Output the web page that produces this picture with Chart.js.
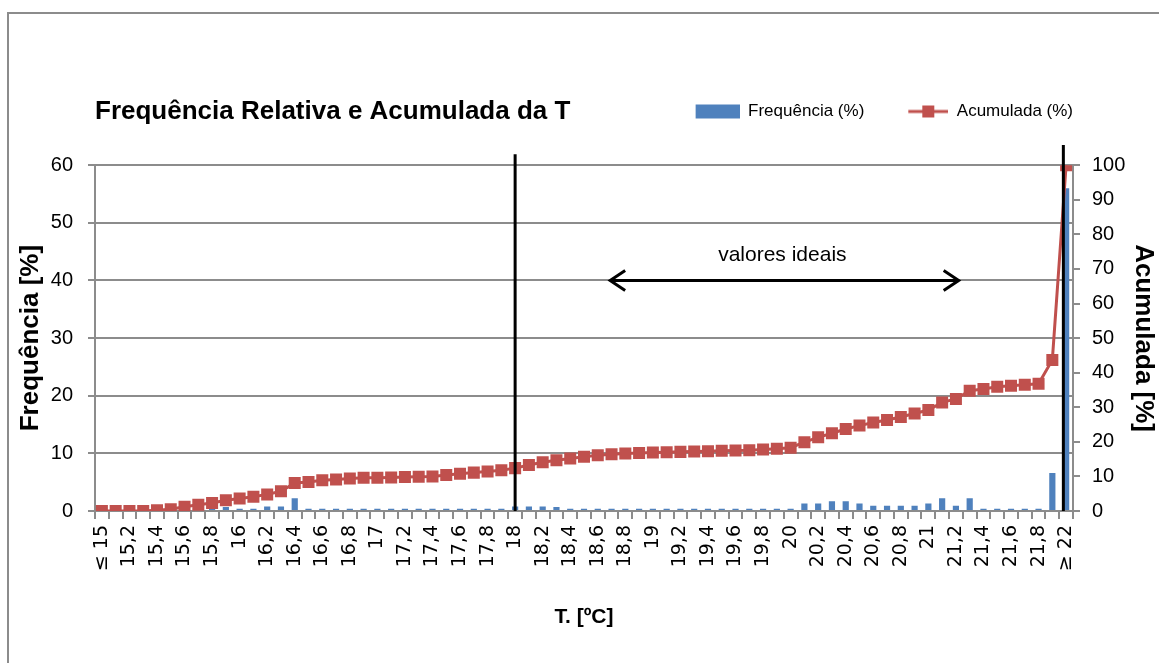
<!DOCTYPE html>
<html lang="pt">
<head>
    <meta charset="UTF-8">
    <title>Frequência Relativa e Acumulada da T</title>
    <script src="https://cdn.jsdelivr.net/npm/chart.js"></script>
    <style>
        html, body {
            margin: 0;
            padding: 0;
            background: #fff;
            overflow: hidden;
        }
        #wrap {
            position: relative;
            width: 1159px;
            height: 663px;
        }
        #frame {
            position: absolute;
            left: 7px;
            top: 12px;
            width: 1200px;
            height: 700px;
            border: 2px solid #8c8c8c;
            pointer-events: none;
        }
        canvas {
            position: absolute;
            left: 0;
            top: 0;
        }
    </style>
</head>
<body>
<div id="wrap">
    <div id="frame"></div>
    <canvas id="chart" width="1159" height="663"></canvas>
</div>

<script>
    // temperature classes (step 0,1 ºC)
    const categories = [
        '≤ 15', '15,1', '15,2', '15,3', '15,4', '15,5', '15,6', '15,7', '15,8', '15,9',
        '16', '16,1', '16,2', '16,3', '16,4', '16,5', '16,6', '16,7', '16,8', '16,9',
        '17', '17,1', '17,2', '17,3', '17,4', '17,5', '17,6', '17,7', '17,8', '17,9',
        '18', '18,1', '18,2', '18,3', '18,4', '18,5', '18,6', '18,7', '18,8', '18,9',
        '19', '19,1', '19,2', '19,3', '19,4', '19,5', '19,6', '19,7', '19,8', '19,9',
        '20', '20,1', '20,2', '20,3', '20,4', '20,5', '20,6', '20,7', '20,8', '20,9',
        '21', '21,1', '21,2', '21,3', '21,4', '21,5', '21,6', '21,7', '21,8', '21,9',
        '≥ 22'
    ];

    // relative frequency (%) - left axis
    const frequencia = [
        0, 0, 0, 0.1, 0.2, 0.3, 0.6, 0.6, 0.5, 0.7,
        0.4, 0.4, 0.8, 0.8, 2.2, 0.4, 0.4, 0.4, 0.4, 0.4,
        0.4, 0.4, 0.4, 0.4, 0.4, 0.4, 0.4, 0.4, 0.4, 0.4,
        0.8, 0.8, 0.8, 0.7, 0.4, 0.4, 0.4, 0.4, 0.4, 0.4,
        0.4, 0.4, 0.4, 0.4, 0.4, 0.4, 0.4, 0.4, 0.4, 0.4,
        0.4, 1.3, 1.3, 1.7, 1.7, 1.3, 0.9, 0.9, 0.9, 0.9,
        1.3, 2.2, 0.9, 2.2, 0.4, 0.4, 0.4, 0.4, 0.4, 6.6,
        56.0
    ];

    // cumulative (%) - right axis
    const acumulada = [
        0, 0, 0, 0, 0.2, 0.5, 1.2, 1.8, 2.3, 3.1,
        3.6, 4.1, 4.8, 5.7, 8.1, 8.4, 8.9, 9.1, 9.4, 9.6,
        9.6, 9.7, 9.8, 9.9, 10.0, 10.4, 10.8, 11.1, 11.4, 11.8,
        12.4, 13.3, 14.1, 14.7, 15.2, 15.7, 16.1, 16.4, 16.6, 16.8,
        16.9, 17.0, 17.1, 17.2, 17.3, 17.4, 17.5, 17.6, 17.8, 18.0,
        18.3, 19.9, 21.3, 22.5, 23.7, 24.7, 25.6, 26.3, 27.2, 28.2,
        29.2, 31.4, 32.4, 34.8, 35.3, 35.9, 36.2, 36.5, 36.8, 43.7,
        100
    ];

    const leftTicks = [0, 10, 20, 30, 40, 50, 60];
    const rightTicks = [0, 10, 20, 30, 40, 50, 60, 70, 80, 90, 100];

    const BLUE = '#4F81BD';
    const RED = '#C0504D';
    const GRID = '#8c8c8c';
    const FONT = '"Liberation Sans", Arial, sans-serif';

    // legend icons, excel style
    function makeIcon(kind) {
        const c = document.createElement('canvas');
        c.width = 84;
        c.height = 16;
        const g = c.getContext('2d');
        if (kind === 'bar') {
            g.fillStyle = BLUE;
            g.fillRect(40, 1, 44, 14);
        } else {
            g.strokeStyle = RED;
            g.lineWidth = 3;
            g.beginPath();
            g.moveTo(44, 8);
            g.lineTo(84, 8);
            g.stroke();
            g.fillStyle = RED;
            g.fillRect(58, 2, 12, 12);
        }
        return c;
    }
    const icons = { bar: makeIcon('bar'), line: makeIcon('line') };

    // limit lines and "valores ideais" arrow
    const annotations = {
        id: 'annotations',
        afterDatasetsDraw(chart) {
            const { ctx } = chart;
            const x = chart.scales.x;
            const y = chart.scales.y;
            ctx.save();
            ctx.strokeStyle = '#000';
            ctx.lineWidth = 3;

            [[30, 61.9], [69.8, 63.5]].forEach(([idx, top]) => {
                const px = x.getPixelForValue(idx);
                ctx.beginPath();
                ctx.moveTo(px, y.getPixelForValue(top));
                ctx.lineTo(px, y.getPixelForValue(0));
                ctx.stroke();
            });

            const x1 = x.getPixelForValue(36.9);
            const x2 = x.getPixelForValue(62.2);
            const ay = y.getPixelForValue(40);
            ctx.beginPath();
            ctx.moveTo(x1, ay);
            ctx.lineTo(x2, ay);
            ctx.moveTo(x1 + 15, ay - 10);
            ctx.lineTo(x1, ay);
            ctx.lineTo(x1 + 15, ay + 10);
            ctx.moveTo(x2 - 15, ay - 10);
            ctx.lineTo(x2, ay);
            ctx.lineTo(x2 - 15, ay + 10);
            ctx.stroke();

            ctx.fillStyle = '#000';
            ctx.font = '21px ' + FONT;
            ctx.textAlign = 'center';
            ctx.textBaseline = 'middle';
            ctx.fillText('valores ideais', x.getPixelForValue(49.4), y.getPixelForValue(44.3));
            ctx.restore();
        }
    };

    const ctx = document.getElementById('chart').getContext('2d');

    const chart = new Chart(ctx, {
        type: 'bar',
        data: {
            labels: categories,
            datasets: [
                {
                    type: 'line',
                    label: 'Acumulada (%)',
                    data: acumulada,
                    yAxisID: 'y1',
                    borderColor: RED,
                    backgroundColor: RED,
                    borderWidth: 3,
                    pointStyle: 'rect',
                    pointRadius: 8.5,
                    pointBorderWidth: 0,
                    tension: 0
                },
                {
                    type: 'bar',
                    label: 'Frequência (%)',
                    data: frequencia,
                    yAxisID: 'y',
                    backgroundColor: BLUE,
                    barPercentage: 0.45,
                    categoryPercentage: 1
                }
            ]
        },
        options: {
            responsive: false,
            animation: false,
            layout: {
                padding: { top: 103, left: 0, right: 0, bottom: 0 }
            },
            plugins: {
                legend: {
                    position: 'top',
                    align: 'end',
                    fullSize: false,
                    weight: 3000,
                    labels: {
                        usePointStyle: true,
                        pointStyleWidth: 84,
                        padding: 0,
                        color: '#000',
                        font: { family: FONT, size: 17 },
                        sort: (a, b) => b.datasetIndex - a.datasetIndex,
                        generateLabels(chart) {
                            const items = Chart.defaults.plugins.legend.labels.generateLabels(chart);
                            items.forEach(it => {
                                it.pointStyle = it.datasetIndex === 1 ? icons.bar : icons.line;
                            });
                            return items;
                        }
                    }
                },
                title: {
                    display: true,
                    text: 'Frequência Relativa e Acumulada da T',
                    align: 'start',
                    fullSize: false,
                    color: '#000',
                    font: { family: FONT, size: 26, weight: 'bold' },
                    padding: { top: -34, bottom: 38 }
                },
                tooltip: { enabled: false }
            },
            scales: {
                x: {
                    grid: {
                        drawOnChartArea: false,
                        drawTicks: true,
                        tickLength: 8,
                        color: GRID,
                        lineWidth: 2
                    },
                    border: { display: false },
                    ticks: {
                        autoSkip: false,
                        minRotation: 90,
                        maxRotation: 90,
                        padding: 6,
                        color: '#000',
                        font: { family: '"DejaVu Sans", sans-serif', size: 19 },
                        callback: (v, i) => (i % 2 === 0 ? categories[i] : '')
                    },
                    title: {
                        display: true,
                        text: 'T. [ºC]',
                        color: '#000',
                        font: { family: FONT, size: 21, weight: 'bold' },
                        padding: { top: 33, bottom: 33 }
                    },
                    afterFit: s => { s.height = 152; }
                },
                y: {
                    position: 'left',
                    min: 0,
                    max: 60,
                    afterBuildTicks: s => { s.ticks = leftTicks.map(v => ({ value: v })); },
                    grid: {
                        color: GRID,
                        lineWidth: 2,
                        tickLength: 7
                    },
                    border: { color: GRID, width: 2 },
                    ticks: {
                        padding: 15,
                        color: '#000',
                        font: { family: FONT, size: 20 }
                    },
                    title: {
                        display: true,
                        text: 'Frequência [%]',
                        color: '#000',
                        font: { family: FONT, size: 26, weight: 'bold' },
                        padding: { top: 15, bottom: 0 }
                    },
                    afterFit: s => { s.width = 95; }
                },
                y1: {
                    position: 'right',
                    min: 0,
                    max: 100,
                    afterBuildTicks: s => { s.ticks = rightTicks.map(v => ({ value: v })); },
                    grid: {
                        drawOnChartArea: false,
                        color: GRID,
                        lineWidth: 2,
                        tickLength: 7
                    },
                    border: { color: GRID, width: 2 },
                    ticks: {
                        padding: 12,
                        color: '#000',
                        font: { family: FONT, size: 20 }
                    },
                    title: {
                        display: true,
                        text: 'Acumulada [%]',
                        color: '#000',
                        font: { family: FONT, size: 26, weight: 'bold' },
                        padding: { top: 0, bottom: 3 }
                    },
                    afterFit: s => { s.width = 86; }
                }
            }
        },
        plugins: [annotations]
    });
</script>
</body>
</html>
